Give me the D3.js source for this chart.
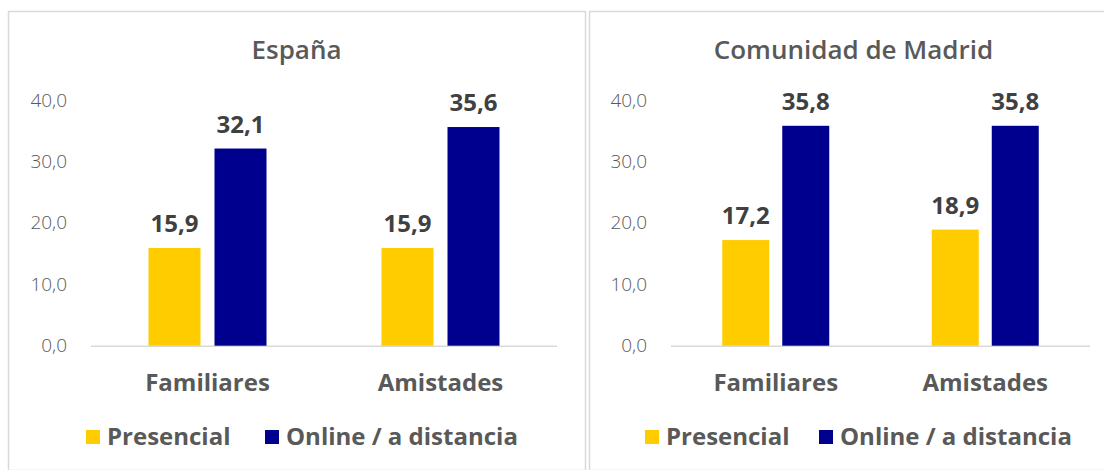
<!DOCTYPE html>
<html><head><meta charset="utf-8">
<script src="https://cdn.jsdelivr.net/npm/d3@7"></script>
<style>
html,body{margin:0;padding:0;background:#fff;}
svg{display:block;}
</style></head>
<body><svg id="c" width="1104" height="470"></svg>
<script>
const categories = ["Familiares", "Amistades"];
const seriesNames = ["Presencial", "Online / a distancia"];
const seriesColors = ["#FFCC00", "#00008F"];
const panelTitles = ["España", "Comunidad de Madrid"];
const espanaPresencial = [15.9, 15.9];
const espanaOnline = [32.1, 35.6];
const madridPresencial = [17.2, 18.9];
const madridOnline = [35.8, 35.8];
const yTicks = [0, 10, 20, 30, 40];

const panels = [
  {title: panelTitles[0], values: [espanaPresencial, espanaOnline],
   box: [8, 11, 585, 470], plot: [91, 557], barW: 52, gap: 14, tickX: 67,
   legend: [86, 265]},
  {title: panelTitles[1], values: [madridPresencial, madridOnline],
   box: [589, 11, 1118, 470], plot: [671, 1090], barW: 47, gap: 13, tickX: 647,
   legend: [645, 819]}
];

const FONT = "'Open Sans', sans-serif";
const svg = d3.select("#c");
const fmt = v => d3.format(".1f")(v).replace(".", ",");
const y = d3.scaleLinear().domain([0, 40]).range([345.7, 100]);

panels.forEach(p => {
  const g = svg.append("g");
  g.append("rect").attr("x", p.box[0] + 0.5).attr("y", p.box[1] + 0.5)
    .attr("width", p.box[2] - p.box[0]).attr("height", p.box[3] - p.box[1])
    .attr("fill", "#fff").attr("stroke", "#D9D9D9").attr("stroke-width", 1.5);
  g.append("text").attr("x", (p.box[0] + p.box[2]) / 2).attr("y", 59)
    .attr("text-anchor", "middle").attr("font-family", FONT)
    .attr("font-size", 26).attr("font-weight", 600).attr("fill", "#595959").text(p.title);

  const x0 = d3.scaleBand().domain(categories).range(p.plot).paddingInner(0).paddingOuter(0);

  // y-axis tick labels
  const yAxis = d3.axisLeft(y).tickValues(yTicks).tickSize(0).tickFormat(fmt);
  const ya = g.append("g").attr("transform", `translate(${p.tickX},0)`).call(yAxis);
  ya.select(".domain").remove();
  ya.selectAll("text").attr("font-family", FONT).attr("font-size", 19)
    .attr("font-weight", 300).attr("fill", "#595959").attr("x", 0);

  // baseline
  g.append("line").attr("x1", p.plot[0]).attr("x2", p.plot[1])
    .attr("y1", y(0) + 0.5).attr("y2", y(0) + 0.5).attr("stroke", "#D9D9D9").attr("stroke-width", 1.5);

  seriesNames.forEach((s, si) => {
    categories.forEach((c, ci) => {
      const v = p.values[si][ci];
      const cx = x0(c) + x0.bandwidth() / 2;
      const bx = si === 0 ? cx - p.gap / 2 - p.barW : cx + p.gap / 2;
      g.append("rect").attr("x", bx).attr("y", y(v)).attr("width", p.barW)
        .attr("height", y(0) - y(v)).attr("fill", seriesColors[si]);
      g.append("text").attr("x", bx + p.barW / 2).attr("y", y(v) - 16)
        .attr("text-anchor", "middle").attr("font-family", FONT)
        .attr("font-size", 24).attr("font-weight", 700).attr("fill", "#404040").text(fmt(v));
    });
  });

  // category labels
  const xa = g.append("g").attr("transform", `translate(0,${y(0)})`)
    .call(d3.axisBottom(x0).tickSize(0).tickPadding(0));
  xa.select(".domain").remove();
  xa.selectAll("text").attr("dy", null).attr("y", 45).attr("font-family", FONT)
    .attr("font-size", 24).attr("font-weight", 700).attr("fill", "#595959");

  // legend
  seriesNames.forEach((s, si) => {
    const lx = p.legend[si];
    g.append("rect").attr("x", lx).attr("y", 430).attr("width", 14).attr("height", 14)
      .attr("fill", seriesColors[si]);
    g.append("text").attr("x", lx + 21).attr("y", 445).attr("font-family", FONT)
      .attr("font-size", 24).attr("font-weight", 700).attr("fill", "#595959").text(s);
  });
});
</script></body></html>
